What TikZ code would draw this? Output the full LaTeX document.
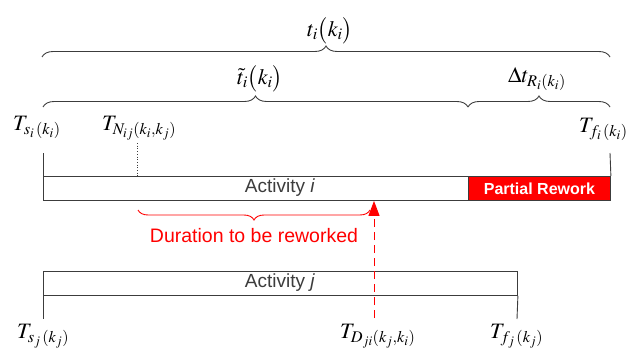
\documentclass[tikz,border=0pt]{standalone}
\usepackage{mathptmx}
\usepackage{fontspec}
\setmainfont{Liberation Sans}
\usetikzlibrary{decorations.pathreplacing,arrows.meta}
\definecolor{BarGrey}{HTML}{3C3C3C}
\definecolor{ReworkRed}{HTML}{FF0000}
\tikzset{
  bar/.style={draw=BarGrey, line width=0.9pt, minimum height=24pt, inner sep=0pt, anchor=north west},
  tick/.style={draw=BarGrey, line width=0.9pt},
  span/.style={decorate, decoration={brace, amplitude=11pt}, draw=BarGrey, line width=0.9pt},
  timelbl/.style={inner sep=0pt, anchor=base west, font=\fontsize{22}{24}\selectfont},
  spanlbl/.style={inner sep=0pt, font=\fontsize{22}{24}\selectfont},
  actlbl/.style={inner sep=0pt, font=\fontsize{19}{21}\selectfont, text=BarGrey},
}

\begin{document}
\begin{tikzpicture}[x=1pt,y=-1pt]
  \useasboundingbox (0,0) rectangle (635,353);

  % spans over activity i
  \coordinate (top-l) at (42,57);
  \coordinate (top-r) at (610,57);
  \coordinate (mid-l) at (43,107);
  \coordinate (mid-m) at (468,107);
  \coordinate (mid-r) at (610,107);
  \draw[span] (top-l) -- (top-r);
  \draw[span] (mid-l) -- (mid-m);
  \draw[span] (mid-m) -- (mid-r);
  \node[spanlbl] (ti) at (330,31) {$t_i\bigl(k_i\bigr)$};
  \node[spanlbl] (tti) at (260,79) {$\tilde{t}_i\bigl(k_i\bigr)$};
  \node[spanlbl] (dtr) at (537,79) {$\Delta t_{R_i(k_i)}$};

  % activity i
  \node[bar, minimum width=425pt] (acti) at (43,176) {};
  \node[bar, minimum width=142pt, fill=ReworkRed, text=white,
        font=\fontsize{16}{18}\selectfont\bfseries] (rework) at (468,176) {Partial Rework};
  \node[actlbl] (actilbl) at (280,188) {Activity \textit{i}};

  \coordinate (si) at (43,153);
  \coordinate (fi) at (610,153);
  \coordinate (nij) at (137,143);
  \draw[tick] (acti.north west) -- (si);
  \draw[tick] (rework.north east) -- (fi);
  \draw[draw=BarGrey, line width=0.7pt, dotted] (nij) -- (nij |- acti.north);

  \node[timelbl] (Tsi) at (13,130) {$T_{s_i\,(k_i)}$};
  \node[timelbl] (Tnij) at (102,130) {$T_{N_{ij}(k_i,k_j)}$};
  \node[timelbl] (Tfi) at (579,132) {$T_{f_i\,(k_i)}$};

  % duration to be reworked
  \coordinate (rw-l) at (138,210);
  \coordinate (rw-r) at (370,210);
  \draw[span, draw=ReworkRed, decoration={mirror, amplitude=10pt}] (rw-l) -- (rw-r);
  \node[inner sep=0pt, font=\fontsize{19.5}{21}\selectfont, text=ReworkRed] (durlbl) at (254,236) {Duration to be reworked};

  % activity j
  \node[bar, minimum width=474pt] (actj) at (43,271) {};
  \node[actlbl] (actjlbl) at (280,283) {Activity \textit{j}};
  \coordinate (sj) at (43,319);
  \coordinate (fj) at (517,319);
  \draw[tick] (actj.south west) -- (sj);
  \draw[tick] (actj.south east) -- (fj);

  \coordinate (dji) at (374,318);
  \draw[ReworkRed, line width=1pt, dash pattern=on 8pt off 5pt,
        -{Triangle[length=15pt,width=11pt]}] (dji) -- (dji |- acti.south);

  \node[timelbl] (Tsj) at (17,338) {$T_{s_j\,(k_j)}$};
  \node[timelbl] (Tdji) at (340,338) {$T_{D_{ji}(k_j,k_i)}$};
  \node[timelbl] (Tfj) at (490,338) {$T_{f_j\,(k_j)}$};
\end{tikzpicture}
\end{document}
